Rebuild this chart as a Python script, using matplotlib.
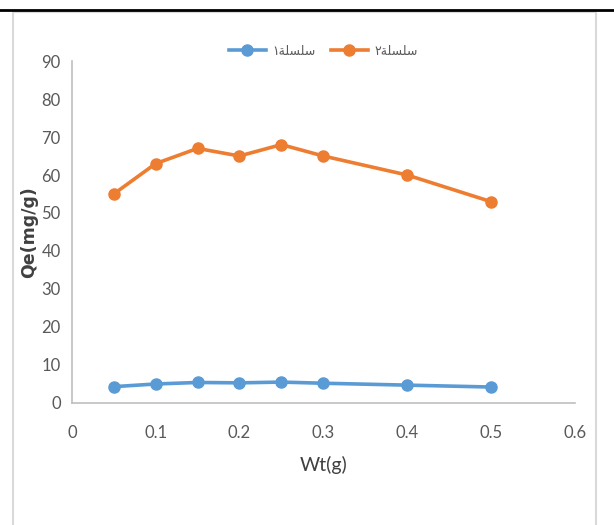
import matplotlib.pyplot as plt
from matplotlib.lines import Line2D
from matplotlib.patches import Rectangle

wt = [0.05, 0.1, 0.15, 0.2, 0.25, 0.3, 0.4, 0.5]
series1 = [4.3, 5.0, 5.4, 5.3, 5.5, 5.2, 4.7, 4.2]
series2 = [55, 63, 67, 65, 68, 65, 60, 53]
# Arabic legend labels, given in visual (shaped) order: "سلسلة١" and "سلسلة٢"
label1 = "\u0661\uFE94\uFEE0\uFEB4\uFEE0\uFEB3"
label2 = "\u0662\uFE94\uFEE0\uFEB4\uFEE0\uFEB3"
xticks = [0, 0.1, 0.2, 0.3, 0.4, 0.5, 0.6]
yticks = list(range(0, 91, 10))

plt.rcParams['font.family'] = ['Lato', 'DejaVu Sans']

fig = plt.figure(figsize=(6.14, 5.25), dpi=100)
ax = fig.add_axes([0.117, 0.2324, 0.819, 0.6514])

ax.plot(wt, series1, color='#5B9BD5', lw=2.6, marker='o', ms=8, label=label1)
ax.plot(wt, series2, color='#ED7D31', lw=2.6, marker='o', ms=8, label=label2)

ax.set_xlim(0, 0.6)
ax.set_ylim(0, 90)
ax.set_xticks(xticks)
ax.set_xticklabels([str(v) if v else '0' for v in xticks])
ax.set_yticks(yticks)
ax.tick_params(length=0, labelsize=12, colors='#595959')
ax.tick_params(axis='y', pad=8)
ax.tick_params(axis='x', pad=16)
for side in ['top', 'right']:
    ax.spines[side].set_visible(False)
for side in ['left', 'bottom']:
    ax.spines[side].set_color('#bfbfbf')
    ax.spines[side].set_linewidth(1.2)

ax.set_xlabel('Wt(g)', fontsize=14, color='#404040')
ax.xaxis.set_label_coords(0.5, -0.155)
ax.set_ylabel('Qe(mg/g)', fontsize=12.5, color='#404040', fontweight='bold',
              family='DejaVu Sans')
ax.yaxis.set_label_coords(-0.068, 0.5)

leg = ax.legend(loc='lower center', bbox_to_anchor=(0.5, 0.995), ncol=2, frameon=False,
                handlelength=3, columnspacing=1.2, handletextpad=0.5, borderaxespad=0,
                prop={'family': ['DejaVu Sans'], 'size': 9})
for t in leg.get_texts():
    t.set_color('#595959')

# outer chart frame and top black rule
fig.patches.append(Rectangle((13 / 614, -0.05), (596 - 13) / 614, 1 - 12 / 525 + 0.05,
                             transform=fig.transFigure, fill=False, ec='#d9d9d9', lw=1.5))
fig.lines.append(Line2D([0, 1], [1 - 9.5 / 525] * 2, transform=fig.transFigure,
                        color='black', lw=2))

fig.savefig('out.png', dpi=100)
